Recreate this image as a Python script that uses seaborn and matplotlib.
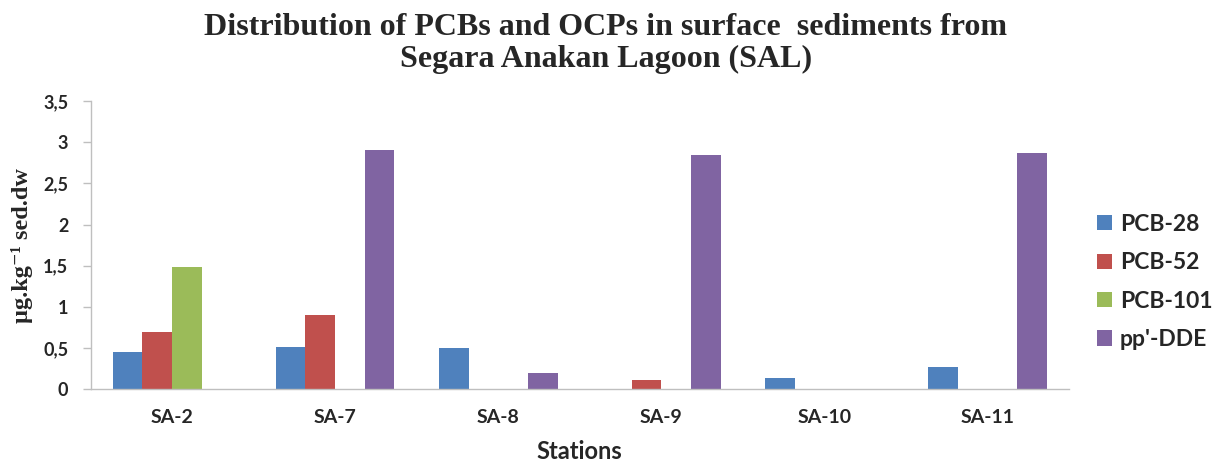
import numpy as np
import pandas as pd
import matplotlib
matplotlib.use("Agg")
import matplotlib.pyplot as plt
from matplotlib.ticker import FuncFormatter, MultipleLocator
import seaborn as sns

# ---- data ----
stations = ["SA-2", "SA-7", "SA-8", "SA-9", "SA-10", "SA-11"]
compounds = ["PCB-28", "PCB-52", "PCB-101", "pp'-DDE"]
pcb28 = [0.45, 0.51, 0.50, 0.0, 0.14, 0.27]
pcb52 = [0.70, 0.90, 0.0, 0.11, 0.0, 0.0]
pcb101 = [1.48, 0.0, 0.0, 0.0, 0.0, 0.0]
ppdde = [0.0, 2.90, 0.20, 2.85, 0.0, 2.87]
colors = ["#4F81BD", "#C0504D", "#9BBB59", "#8064A2"]

title = "Distribution of PCBs and OCPs in surface  sediments from\nSegara Anakan Lagoon (SAL)"
ylabel = "µg.kg⁻¹ sed.dw"
xlabel = "Stations"

rows = []
for name, vals in zip(compounds, [pcb28, pcb52, pcb101, ppdde]):
    for st, v in zip(stations, vals):
        rows.append({"Station": st, "Compound": name, "Value": v})
df = pd.DataFrame(rows)

sns.set_style("white")
plt.rcParams["font.family"] = ["Lato", "DejaVu Sans"]

fig = plt.figure(figsize=(12.12, 4.62), dpi=100)
ax = fig.add_axes([90.5 / 1212, (462 - 389.3) / 462, (1069 - 90.5) / 1212, 288.3 / 462])

sns.barplot(data=df, x="Station", y="Value", hue="Compound",
            order=stations, hue_order=compounds, palette=colors,
            width=0.728, errorbar=None, linewidth=0, saturation=1, ax=ax)

ax.set_ylim(0, 3.5)
ax.set_xlim(-0.5, len(stations) - 0.5)
ax.yaxis.set_major_locator(MultipleLocator(0.5))
ax.yaxis.set_major_formatter(FuncFormatter(
    lambda v, p: ("%d" % round(v)) if abs(v - round(v)) < 1e-9 else ("%.1f" % v).replace(".", ",")))

for s in ["top", "right"]:
    ax.spines[s].set_visible(False)
for s in ["left", "bottom"]:
    ax.spines[s].set_color("#BFBFBF")
    ax.spines[s].set_linewidth(1.0)

ax.tick_params(axis="y", length=6, width=1, color="#BFBFBF", direction="out",
               pad=10, labelsize=13, left=True)
ax.tick_params(axis="x", length=0, pad=14, labelsize=14)
for lab in ax.get_xticklabels() + ax.get_yticklabels():
    lab.set_fontweight("bold")

ax.set_xlabel(xlabel, fontsize=17, fontweight="bold", labelpad=10)
ax.set_ylabel(ylabel, fontsize=17.5, fontweight="bold",
              family=["Liberation Serif", "DejaVu Serif"])
ax.yaxis.set_label_coords(-0.0588, 0.5)

fig.text(0.5, 0.972, title, ha="center", va="top", fontsize=23,
         fontweight="bold", family=["Liberation Serif", "DejaVu Serif"],
         linespacing=1.15)

handles, labels = ax.get_legend_handles_labels()
ax.legend(handles, labels, loc="center left",
          bbox_to_anchor=(1088 / 1212, (462 - 282) / 462),
          bbox_transform=fig.transFigure, frameon=False,
          prop={"family": ["Lato", "DejaVu Sans"], "weight": "bold", "size": 16.5},
          handlelength=0.65, handleheight=0.65, handletextpad=0.35,
          labelspacing=0.76, borderaxespad=0)

fig.savefig("out.png", dpi=100)
